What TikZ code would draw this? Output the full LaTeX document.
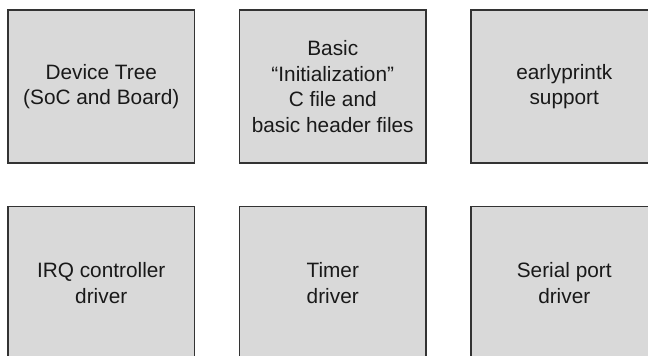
\documentclass[tikz,border=0pt]{standalone}
\usepackage{fontspec}
\setmainfont{Liberation Sans}
\definecolor{boxfill}{HTML}{D9D9D9}
\definecolor{boxline}{HTML}{333333}
\begin{document}
\begin{tikzpicture}[x=1pt,y=1pt,
  block/.style={draw=boxline, line width=1.1pt, fill=boxfill, minimum width=186.5pt, minimum height=153pt, inner sep=0pt, align=center, text=black!90, font=\fontsize{20.8}{25.5}\selectfont}]
\useasboundingbox (0,0) rectangle (648,356);
\clip (0,0) rectangle (648,356);
\node[block] (dt) at (101.25,269.5) {Device Tree\\(SoC and Board)};
\node[block] (init) at (332.75,269.5) {Basic\\“Initialization”\\C file and\\basic header files};
\node[block] (early) at (564.25,269.5) {earlyprintk\\support};
\node[block] (irq) at (101.25,73) {IRQ controller\\driver};
\node[block] (timer) at (332.75,73) {Timer\\driver};
\node[block] (serial) at (564.25,73) {Serial port\\driver};
\end{tikzpicture}
\end{document}
